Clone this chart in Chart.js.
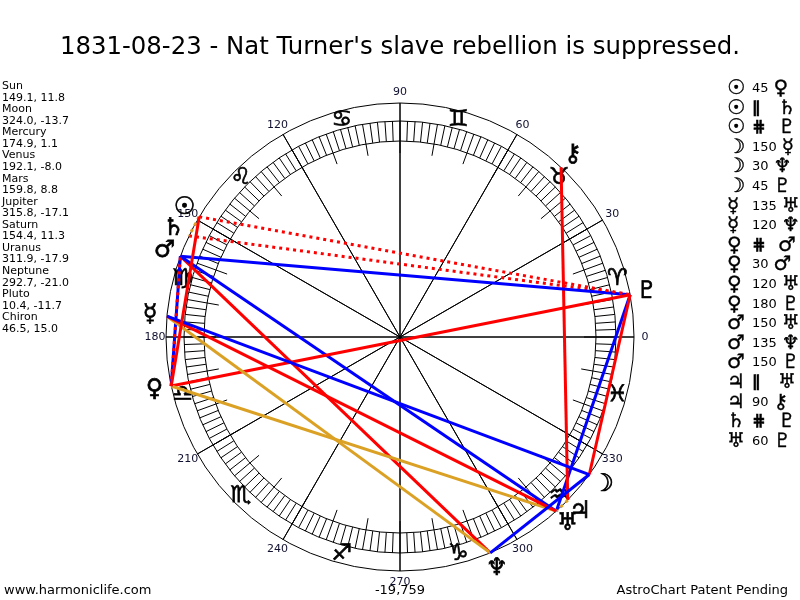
<!DOCTYPE html>
<html>
<head>
<meta charset="utf-8">
<script src="https://cdn.jsdelivr.net/npm/chart.js@4/dist/chart.umd.min.js"></script>
<style>
  body { margin: 0; background: #fff; }
  #wrap { position: relative; width: 800px; height: 600px; font-family: "DejaVu Sans", sans-serif; color: #000; }
  #wheel { position: absolute; left: 0; top: 0; }
  #title { position: absolute; top: 31px; left: 0; width: 800px; text-align: center; font-size: 24.4px; }
  #planets { position: absolute; left: 2px; top: 80px; font-size: 11px; line-height: 11.57px; }
  #aspects { position: absolute; left: 727px; top: 78px; }
  .asp { height: 19.6px; line-height: 19.6px; white-space: nowrap; }
  .g { display: inline-block; width: 25px; font-size: 20px; -webkit-text-stroke: 0.4px #000; vertical-align: top; }
  .n { font-size: 13px; margin-right: 5px; vertical-align: top; }
  .d { display: inline-block; width: 26px; font-size: 16px; font-weight: bold; -webkit-text-stroke: 0.5px #000; vertical-align: top; }
  .foot { position: absolute; top: 582px; font-size: 13px; }
</style>
</head>
<body>
<div id="wrap">
  <canvas id="wheel" width="800" height="600"></canvas>
  <div id="title">1831-08-23 - Nat Turner's slave rebellion is suppressed.</div>
  <div id="planets"></div>
  <div id="aspects"></div>
  <div class="foot" style="left:4px">www.harmoniclife.com</div>
  <div class="foot" style="left:0;width:800px;text-align:center">-19,759</div>
  <div class="foot" style="right:12px">AstroChart Patent Pending</div>
</div>
<script>
// planet positions: ecliptic longitude, declination
const planetNames = ['Sun', 'Moon', 'Mercury', 'Venus', 'Mars', 'Jupiter', 'Saturn', 'Uranus', 'Neptune', 'Pluto', 'Chiron'];
const planetGlyphs = ['☉', '☽', '☿', '♀', '♂', '♃', '♄', '♅', '♆', '♇', '⚷'];
const longitudes = [149.1, 324.0, 174.9, 192.1, 159.8, 315.8, 154.4, 311.9, 292.7, 10.4, 46.5];
const declinations = [11.8, -13.7, 1.1, -8.0, 8.8, -17.1, 11.3, -17.9, -21.0, -11.7, 15.0];

// aspects as listed on the right
const aspectFrom = ['Sun', 'Sun', 'Sun', 'Moon', 'Moon', 'Moon', 'Mercury', 'Mercury', 'Venus', 'Venus', 'Venus', 'Venus', 'Mars', 'Mars', 'Mars', 'Jupiter', 'Jupiter', 'Saturn', 'Uranus'];
const aspectKind = ['45', 'par', 'contra', '150', '30', '45', '135', '120', 'contra', '30', '120', '180', '150', '135', '150', 'par', '90', 'contra', '60'];
const aspectTo = ['Venus', 'Saturn', 'Pluto', 'Mercury', 'Neptune', 'Pluto', 'Uranus', 'Neptune', 'Mars', 'Mars', 'Uranus', 'Pluto', 'Uranus', 'Neptune', 'Pluto', 'Uranus', 'Chiron', 'Pluto', 'Pluto'];

const signGlyphs = ['♈', '♉', '♊', '♋', '♌', '♍', '♎', '♏', '♐', '♑', '♒', '♓'];
const degreeLabels = [0, 30, 60, 90, 120, 150, 180, 210, 240, 270, 300, 330];

const RED = '#ff0000', BLUE = '#0000ff', GOLD = '#dba124';
const kindColor = { '30': BLUE, '60': BLUE, '150': BLUE, '120': GOLD, par: GOLD, '45': RED, '90': RED, '135': RED, '180': RED, contra: RED };
const kindText = { par: '∥', contra: '⋕' };

// ring radii (in scale units, 1 unit = 1px)
const R_OUT = 234, R_BAND_OUT = 216, R_BAND_IN = 196, R_TICK = 184, R_SIGN = 225, R_DEG = 245, R_PLANET = 251;

function polar(lon, r) {
  const a = lon * Math.PI / 180;
  return { x: r * Math.cos(a), y: r * Math.sin(a) };
}

// side texts
document.getElementById('planets').innerHTML = planetNames.map((n, i) =>
  `${n}<br>${longitudes[i].toFixed(1)}, ${declinations[i].toFixed(1)}<br>`).join('');

document.getElementById('aspects').innerHTML = aspectFrom.map((p, i) => {
  const k = aspectKind[i];
  const mid = kindText[k] ? `<span class="d">${kindText[k]}</span>` : `<span class="n">${k}</span>`;
  return `<div class="asp"><span class="g">${planetGlyphs[planetNames.indexOf(p)]}</span>${mid}<span class="g">${planetGlyphs[planetNames.indexOf(aspectTo[i])]}</span></div>`;
}).join('');

// draws a glyph a bit heavier, like the reference
function glyph(ctx, s, x, y) {
  ctx.fillText(s, x, y);
  ctx.strokeText(s, x, y);
}

// wheel background: circles, hatch band, 30 degree spokes, signs
const wheelPlugin = {
  id: 'wheel',
  beforeDatasetsDraw(chart) {
    const { ctx, scales: { x, y } } = chart;
    const px = p => [x.getPixelForValue(p.x), y.getPixelForValue(p.y)];
    const [cx, cy] = px({ x: 0, y: 0 });
    const k = x.getPixelForValue(1) - x.getPixelForValue(0);
    ctx.save();
    ctx.strokeStyle = '#000';
    ctx.lineWidth = 1;
    [R_OUT, R_BAND_OUT, R_BAND_IN].forEach(r => {
      ctx.beginPath();
      ctx.arc(cx, cy, r * k, 0, Math.PI * 2);
      ctx.stroke();
    });
    ctx.beginPath();
    for (let d = 0; d < 360; d += 2) {
      const a = px(polar(d, d % 10 === 0 ? R_TICK : R_BAND_IN));
      const b = px(polar(d, R_BAND_OUT));
      ctx.moveTo(a[0], a[1]);
      ctx.lineTo(b[0], b[1]);
    }
    degreeLabels.forEach(d => {
      const a = px(polar(d, R_OUT));
      const b = px(polar(d + 180, R_OUT));
      ctx.moveTo(a[0], a[1]);
      ctx.lineTo(b[0], b[1]);
    });
    ctx.stroke();
    ctx.fillStyle = '#000';
    ctx.lineWidth = 0.7;
    ctx.textAlign = 'center';
    ctx.textBaseline = 'middle';
    ctx.font = '23px "DejaVu Sans"';
    signGlyphs.forEach((s, i) => {
      const p = px(polar(i * 30 + 15, R_SIGN));
      glyph(ctx, s, p[0], p[1]);
    });
    ctx.restore();
  },
  afterDatasetsDraw(chart) {
    const { ctx, scales: { x, y } } = chart;
    const px = p => [x.getPixelForValue(p.x), y.getPixelForValue(p.y)];
    ctx.save();
    ctx.textAlign = 'center';
    ctx.textBaseline = 'middle';
    ctx.fillStyle = '#101030';
    ctx.font = '11px "DejaVu Sans"';
    degreeLabels.forEach(d => {
      const p = px(polar(d, R_DEG));
      ctx.fillText(String(d), p[0], p[1]);
    });
    ctx.fillStyle = '#000';
    ctx.strokeStyle = '#000';
    ctx.lineWidth = 0.7;
    ctx.font = '24px "DejaVu Sans"';
    planetGlyphs.forEach((g, i) => {
      const p = px(polar(longitudes[i], R_PLANET));
      glyph(ctx, g, p[0], p[1]);
    });
    ctx.restore();
  }
};

const datasets = aspectFrom.map((p, i) => {
  const a = planetNames.indexOf(p), b = planetNames.indexOf(aspectTo[i]);
  const k = aspectKind[i];
  return {
    data: [polar(longitudes[a], R_OUT), polar(longitudes[b], R_OUT)],
    showLine: true,
    borderColor: kindColor[k],
    borderWidth: 3,
    borderDash: kindText[k] ? [3, 4] : [],
    pointRadius: 0
  };
});

new Chart(document.getElementById('wheel'), {
  type: 'scatter',
  data: { datasets },
  options: {
    responsive: false,
    animation: false,
    layout: { padding: 0 },
    plugins: { legend: { display: false }, tooltip: { enabled: false } },
    scales: {
      x: { type: 'linear', min: -400, max: 400, display: false },
      y: { type: 'linear', min: -263, max: 337, display: false }
    }
  },
  plugins: [wheelPlugin]
});
</script>
</body>
</html>
